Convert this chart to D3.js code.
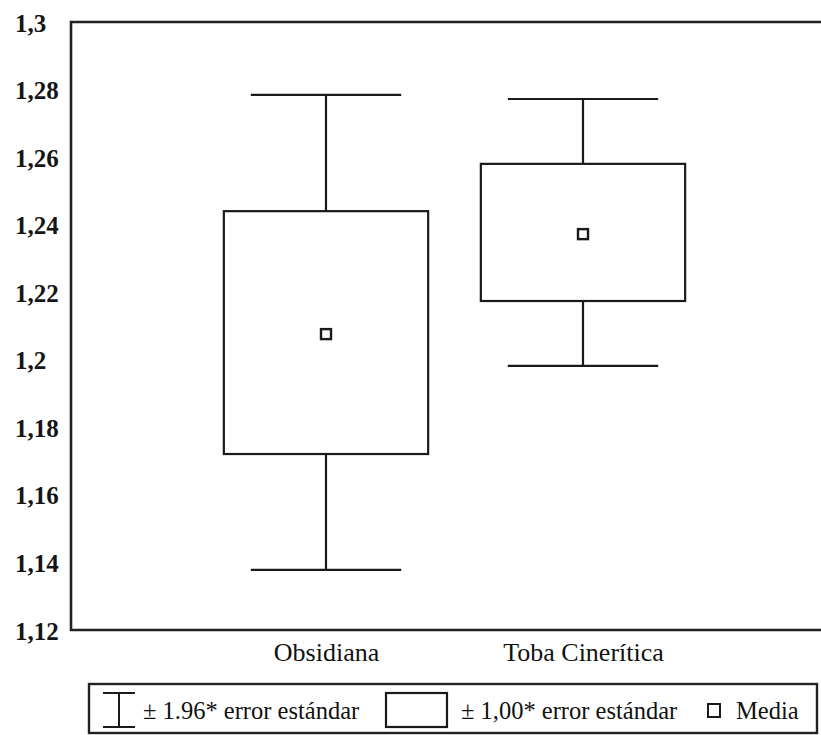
<!DOCTYPE html>
<html>
<head>
<meta charset="utf-8">
<script src="https://cdn.jsdelivr.net/npm/d3@7/dist/d3.min.js"></script>
<style>
  html, body { margin: 0; padding: 0; background: #fff; }
  svg { display: block; }
</style>
</head>
<body>
<svg id="chart" width="821" height="735"></svg>
<script>
// Groups and their summary statistics (mean, ±1.00 SE box, ±1.96 SE whiskers)
const categories = ["Obsidiana", "Toba Cinerítica"];
const means      = [1.2076, 1.2372];
const boxLow     = [1.1721, 1.2174];
const boxHigh    = [1.2440, 1.2580];
const whiskLow   = [1.1378, 1.1982];
const whiskHigh  = [1.2784, 1.2772];

// Y axis ticks and their printed labels (decimal comma)
const tickValues = [1.12, 1.14, 1.16, 1.18, 1.2, 1.22, 1.24, 1.26, 1.28, 1.3];
const tickLabels = ["1,12", "1,14", "1,16", "1,18", "1,2", "1,22", "1,24", "1,26", "1,28", "1,3"];

// Legend entries
const legendLabels = ["± 1.96* error estándar", "± 1,00* error estándar", "Media"];

const serif = "Liberation Serif";
const svg = d3.select("#chart");
const ink = "#1a1a1a";

const plot = { left: 71, top: 22, right: 830, bottom: 630 };

const y = d3.scaleLinear().domain([1.12, 1.3]).range([plot.bottom, plot.top]);
const x = d3.scalePoint().domain(categories).range([69, 840]).padding(1);
const step = x.step();
const boxW = step * 0.795;
const capW = step * 0.585;

const rows = categories.map((c, i) => ({
  cat: c, mean: means[i], lo: boxLow[i], hi: boxHigh[i], wlo: whiskLow[i], whi: whiskHigh[i]
}));

// Plot frame: left, top and bottom edges (open on the right)
svg.append("path")
  .attr("d", `M${plot.right},${plot.top}H${plot.left}V${plot.bottom}H${plot.right}`)
  .attr("fill", "none").attr("stroke", "#222").attr("stroke-width", 2.6);

// Y axis labels, left aligned, no tick marks
const yAxis = d3.axisLeft(y).tickValues(tickValues).tickSize(0)
  .tickFormat((d, i) => tickLabels[i]);
const gy = svg.append("g").attr("transform", `translate(${plot.left},0)`).call(yAxis);
gy.select(".domain").remove();
gy.selectAll("text")
  .attr("x", 15 - plot.left)
  .attr("text-anchor", "start")
  .attr("dy", "0.36em")
  .attr("font-family", serif)
  .attr("font-size", 25)
  .attr("font-weight", "bold")
  .attr("fill", "#151515");

// Category labels under the frame
const xAxis = d3.axisBottom(x).tickSize(0);
const gx = svg.append("g").attr("transform", `translate(0,${plot.bottom})`).call(xAxis);
gx.select(".domain").remove();
gx.selectAll("text")
  .attr("y", 31)
  .attr("dy", 0)
  .attr("font-family", serif)
  .attr("font-size", 26)
  .attr("fill", "#111");

// Box and whisker marks
const g = svg.append("g").attr("fill", "none").attr("stroke", ink).attr("stroke-width", 2.2);
rows.forEach(r => {
  const cx = x(r.cat);
  // whisker stems
  g.append("line").attr("x1", cx).attr("x2", cx).attr("y1", y(r.whi)).attr("y2", y(r.hi));
  g.append("line").attr("x1", cx).attr("x2", cx).attr("y1", y(r.lo)).attr("y2", y(r.wlo));
  // caps
  g.append("line").attr("x1", cx - capW / 2).attr("x2", cx + capW / 2).attr("y1", y(r.whi)).attr("y2", y(r.whi));
  g.append("line").attr("x1", cx - capW / 2).attr("x2", cx + capW / 2).attr("y1", y(r.wlo)).attr("y2", y(r.wlo));
  // box
  g.append("rect").attr("x", cx - boxW / 2).attr("y", y(r.hi))
    .attr("width", boxW).attr("height", y(r.lo) - y(r.hi)).attr("fill", "#fff");
  // mean marker
  g.append("rect").attr("x", cx - 5).attr("y", y(r.mean) - 5)
    .attr("width", 10).attr("height", 10).attr("fill", "#fff").attr("stroke-width", 2.4);
});

// Legend
const leg = svg.append("g");
leg.append("rect").attr("x", 89).attr("y", 684).attr("width", 728).attr("height", 49)
  .attr("fill", "#fff").attr("stroke", "#222").attr("stroke-width", 2.4);

const ly = 710;
// I-beam symbol
const ib = leg.append("g").attr("stroke", ink).attr("stroke-width", 2).attr("fill", "none");
ib.append("line").attr("x1", 103).attr("x2", 135).attr("y1", 693).attr("y2", 693);
ib.append("line").attr("x1", 103).attr("x2", 135).attr("y1", 727).attr("y2", 727);
ib.append("line").attr("x1", 119).attr("x2", 119).attr("y1", 693).attr("y2", 727);
// box symbol
leg.append("rect").attr("x", 386).attr("y", 693).attr("width", 61).attr("height", 34)
  .attr("fill", "#fff").attr("stroke", ink).attr("stroke-width", 2.2);
// mean symbol
leg.append("rect").attr("x", 708).attr("y", 704).attr("width", 12).attr("height", 13)
  .attr("fill", "#fff").attr("stroke", ink).attr("stroke-width", 2);

const legX = [143, 461, 736];
leg.selectAll("text.lab").data(legendLabels).join("text")
  .attr("class", "lab")
  .attr("x", (d, i) => legX[i])
  .attr("y", ly)
  .attr("dy", "0.35em")
  .attr("font-family", serif)
  .attr("font-size", 24.5)
  .attr("fill", "#111")
  .text(d => d);
</script>
</body>
</html>
